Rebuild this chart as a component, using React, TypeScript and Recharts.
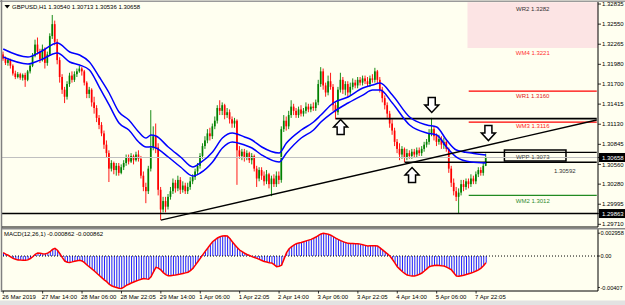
import React from "react";
import {
  ComposedChart,
  Bar,
  Line,
  XAxis,
  YAxis,
  ReferenceLine,
  ReferenceArea,
  ReferenceDot,
} from "recharts";

// GBPUSD H1 candles: [open, high, low, close]
const candles: [number, number, number, number][] = [
  [1.3212, 1.3216, 1.3203, 1.3206], [1.3206, 1.3209, 1.3197, 1.32], [1.32, 1.3207, 1.3196, 1.3204],
  [1.3204, 1.3206, 1.3192, 1.3196], [1.3196, 1.3198, 1.3182, 1.3185], [1.3185, 1.3189, 1.3177, 1.318],
  [1.318, 1.3187, 1.3178, 1.3184], [1.3184, 1.3186, 1.3176, 1.3179], [1.3179, 1.3185, 1.3175, 1.3183],
  [1.3183, 1.3186, 1.3166, 1.3176], [1.3176, 1.319, 1.3174, 1.3188], [1.3188, 1.3198, 1.3185, 1.3196],
  [1.3196, 1.3214, 1.3194, 1.321], [1.321, 1.3233, 1.3208, 1.3226], [1.3226, 1.3236, 1.3212, 1.3216],
  [1.3216, 1.322, 1.32, 1.3205], [1.3205, 1.3226, 1.3202, 1.322], [1.322, 1.3222, 1.3192, 1.32],
  [1.32, 1.3216, 1.3196, 1.3212], [1.3212, 1.3242, 1.321, 1.3238], [1.3238, 1.3268, 1.3234, 1.3255],
  [1.3255, 1.326, 1.3225, 1.323], [1.323, 1.3234, 1.3198, 1.3204], [1.3204, 1.3208, 1.3172, 1.318],
  [1.318, 1.3184, 1.3156, 1.3162], [1.3162, 1.3166, 1.3143, 1.3152], [1.3152, 1.3174, 1.3148, 1.317],
  [1.317, 1.3186, 1.3166, 1.3182], [1.3182, 1.3188, 1.3172, 1.3176], [1.3176, 1.3188, 1.3173, 1.3184],
  [1.3184, 1.3192, 1.318, 1.3188], [1.3188, 1.3196, 1.3186, 1.3192], [1.3192, 1.3194, 1.3182, 1.3188],
  [1.3188, 1.319, 1.3168, 1.3172], [1.3172, 1.3174, 1.315, 1.3156], [1.3156, 1.3166, 1.315, 1.3162],
  [1.3162, 1.3164, 1.3138, 1.3144], [1.3144, 1.3152, 1.3128, 1.3136], [1.3136, 1.314, 1.3116, 1.3122],
  [1.3122, 1.3126, 1.3106, 1.3112], [1.3112, 1.3116, 1.3096, 1.31], [1.31, 1.3104, 1.3078, 1.3084],
  [1.3084, 1.309, 1.3066, 1.3072], [1.3072, 1.3076, 1.3031, 1.305], [1.305, 1.3062, 1.3046, 1.3058],
  [1.3058, 1.306, 1.3042, 1.3048], [1.3048, 1.3058, 1.304, 1.3054], [1.3054, 1.3058, 1.304, 1.3044],
  [1.3044, 1.3056, 1.3042, 1.3052], [1.3052, 1.3062, 1.3048, 1.3058], [1.3058, 1.307, 1.3054, 1.3066],
  [1.3066, 1.307, 1.3056, 1.306], [1.306, 1.3072, 1.3058, 1.3068], [1.3068, 1.307, 1.3056, 1.3062],
  [1.3062, 1.3074, 1.306, 1.307], [1.307, 1.3076, 1.306, 1.3064], [1.3064, 1.3068, 1.3036, 1.304],
  [1.304, 1.3046, 1.3018, 1.3024], [1.3024, 1.303, 1.3001, 1.3018], [1.3018, 1.3054, 1.3014, 1.305],
  [1.305, 1.3133, 1.3046, 1.308], [1.308, 1.311, 1.3076, 1.3096], [1.3096, 1.3114, 1.3072, 1.308],
  [1.308, 1.3086, 1.3012, 1.302], [1.302, 1.3024, 1.2977, 1.2992], [1.2992, 1.301, 1.2988, 1.3004],
  [1.3004, 1.301, 1.2988, 1.2996], [1.2996, 1.3014, 1.2992, 1.301], [1.301, 1.3024, 1.3006, 1.3018],
  [1.3018, 1.3036, 1.3014, 1.303], [1.303, 1.3034, 1.3016, 1.3022], [1.3022, 1.304, 1.3018, 1.3034],
  [1.3034, 1.3038, 1.3014, 1.302], [1.302, 1.3032, 1.3016, 1.3026], [1.3026, 1.303, 1.3014, 1.3018],
  [1.3018, 1.303, 1.3014, 1.3024], [1.3024, 1.3038, 1.302, 1.3032], [1.3032, 1.3042, 1.3028, 1.3038],
  [1.3038, 1.305, 1.3034, 1.3046], [1.3046, 1.3058, 1.3042, 1.3054], [1.3054, 1.3072, 1.305, 1.3068],
  [1.3068, 1.3086, 1.3064, 1.3082], [1.3082, 1.3096, 1.3078, 1.309], [1.309, 1.3106, 1.3086, 1.31],
  [1.31, 1.3108, 1.309, 1.3096], [1.3096, 1.3114, 1.3092, 1.311], [1.311, 1.3124, 1.3106, 1.3118],
  [1.3118, 1.314, 1.3114, 1.3136], [1.3136, 1.3147, 1.3126, 1.3132], [1.3132, 1.3144, 1.3126, 1.314],
  [1.314, 1.3142, 1.312, 1.3126], [1.3126, 1.3136, 1.3122, 1.313], [1.313, 1.3134, 1.3114, 1.312],
  [1.312, 1.3124, 1.3108, 1.3114], [1.3114, 1.3122, 1.3108, 1.3118], [1.3118, 1.312, 1.3027, 1.3076],
  [1.3076, 1.3082, 1.3064, 1.3068], [1.3068, 1.3078, 1.3062, 1.3074], [1.3074, 1.3078, 1.306, 1.3066],
  [1.3066, 1.3076, 1.3062, 1.3072], [1.3072, 1.3074, 1.3058, 1.3062], [1.3062, 1.3072, 1.3056, 1.3068],
  [1.3068, 1.307, 1.3046, 1.305], [1.305, 1.3054, 1.3024, 1.3036], [1.3036, 1.3052, 1.3032, 1.3048],
  [1.3048, 1.3052, 1.3034, 1.304], [1.304, 1.3046, 1.3026, 1.3032], [1.3032, 1.3048, 1.3028, 1.3042],
  [1.3042, 1.3044, 1.3022, 1.3028], [1.3028, 1.304, 1.3011, 1.3036], [1.3036, 1.3042, 1.3024, 1.3028],
  [1.3028, 1.3046, 1.3024, 1.304], [1.304, 1.3046, 1.3028, 1.3034], [1.3034, 1.311, 1.303, 1.3106],
  [1.3106, 1.3126, 1.3102, 1.3118], [1.3118, 1.3124, 1.3104, 1.311], [1.311, 1.3132, 1.3106, 1.3126],
  [1.3126, 1.3147, 1.3122, 1.3138], [1.3138, 1.3142, 1.3126, 1.3132], [1.3132, 1.3136, 1.3122, 1.3126],
  [1.3126, 1.3138, 1.3122, 1.3134], [1.3134, 1.314, 1.3124, 1.3128], [1.3128, 1.3136, 1.3124, 1.3132],
  [1.3132, 1.3144, 1.3128, 1.3138], [1.3138, 1.3142, 1.313, 1.3134], [1.3134, 1.3142, 1.313, 1.3138],
  [1.3138, 1.3144, 1.3132, 1.3136], [1.3136, 1.3148, 1.3132, 1.3144], [1.3144, 1.3176, 1.314, 1.317],
  [1.317, 1.3194, 1.3166, 1.3188], [1.3188, 1.3192, 1.3162, 1.3168], [1.3168, 1.3172, 1.3152, 1.3158],
  [1.3158, 1.3182, 1.3154, 1.3174], [1.3174, 1.3186, 1.3162, 1.3166], [1.3166, 1.317, 1.3132, 1.314],
  [1.314, 1.3144, 1.312, 1.313], [1.313, 1.3166, 1.3126, 1.3162], [1.3162, 1.3186, 1.3158, 1.3176],
  [1.3176, 1.318, 1.3156, 1.3162], [1.3162, 1.3174, 1.3154, 1.317], [1.317, 1.3174, 1.3152, 1.3158],
  [1.3158, 1.3172, 1.3154, 1.3166], [1.3166, 1.3178, 1.3162, 1.3172], [1.3172, 1.3176, 1.3164, 1.3168],
  [1.3168, 1.318, 1.3164, 1.3176], [1.3176, 1.318, 1.3168, 1.3172], [1.3172, 1.3182, 1.3168, 1.3178],
  [1.3178, 1.3182, 1.317, 1.3174], [1.3174, 1.318, 1.3166, 1.317], [1.317, 1.3182, 1.3166, 1.3178],
  [1.3178, 1.3184, 1.3172, 1.3176], [1.3176, 1.3193, 1.3172, 1.3188], [1.3188, 1.319, 1.317, 1.3176],
  [1.3176, 1.318, 1.3158, 1.3162], [1.3162, 1.3166, 1.3144, 1.315], [1.315, 1.3154, 1.3134, 1.314],
  [1.314, 1.3144, 1.3122, 1.3128], [1.3128, 1.3132, 1.3108, 1.3114], [1.3114, 1.312, 1.3098, 1.3104],
  [1.3104, 1.3108, 1.3082, 1.3088], [1.3088, 1.3092, 1.3072, 1.3078], [1.3078, 1.3086, 1.3062, 1.307],
  [1.307, 1.3082, 1.3064, 1.3078], [1.3078, 1.308, 1.3059, 1.3066], [1.3066, 1.3078, 1.3062, 1.3072],
  [1.3072, 1.3076, 1.3064, 1.3068], [1.3068, 1.3078, 1.3064, 1.3074], [1.3074, 1.3078, 1.3066, 1.307],
  [1.307, 1.308, 1.3066, 1.3076], [1.3076, 1.308, 1.3068, 1.3072], [1.3072, 1.3082, 1.3068, 1.3078],
  [1.3078, 1.3088, 1.3074, 1.3084], [1.3084, 1.3092, 1.308, 1.3088], [1.3088, 1.3106, 1.3084, 1.31],
  [1.31, 1.3122, 1.3096, 1.3106], [1.3106, 1.311, 1.309, 1.3096], [1.3096, 1.31, 1.3082, 1.3088],
  [1.3088, 1.3098, 1.3084, 1.3092], [1.3092, 1.3096, 1.3078, 1.3084], [1.3084, 1.3094, 1.3078, 1.3088],
  [1.3088, 1.3092, 1.3074, 1.3078], [1.3078, 1.308, 1.3044, 1.305], [1.305, 1.3054, 1.3024, 1.303],
  [1.303, 1.3036, 1.3012, 1.3018], [1.3018, 1.3024, 1.3004, 1.301], [1.301, 1.3022, 1.2987, 1.3016],
  [1.3016, 1.3034, 1.3012, 1.3028], [1.3028, 1.3034, 1.3018, 1.3024], [1.3024, 1.3036, 1.302, 1.3032],
  [1.3032, 1.3036, 1.3022, 1.3028], [1.3028, 1.3042, 1.3024, 1.3036], [1.3036, 1.304, 1.3028, 1.3032],
  [1.3032, 1.3046, 1.3028, 1.3042], [1.3042, 1.3052, 1.3038, 1.3048], [1.3048, 1.3052, 1.304, 1.3044],
  [1.3044, 1.3058, 1.304, 1.3054], [1.3054, 1.30713, 1.30536, 1.30658],
];

// envelope around the moving average, read at these bars
const maIndex = [0, 10, 15, 22, 27, 31, 35, 39, 43, 47, 51, 55, 58, 60, 62, 67, 72, 77, 80, 85, 89, 93, 98, 101, 105, 112, 115, 121, 126, 129, 134, 140, 146, 150, 153, 158, 165, 172, 176, 180, 184, 190, 196];
const maUpper = [1.32197, 1.32083, 1.32154, 1.32282, 1.32154, 1.32112, 1.32013, 1.318, 1.31573, 1.31303, 1.3119, 1.3102, 1.30934, 1.30977, 1.30963, 1.30807, 1.30665, 1.30523, 1.3058, 1.30736, 1.30934, 1.31005, 1.30949, 1.30906, 1.30807, 1.30722, 1.30864, 1.31048, 1.31161, 1.3126, 1.31431, 1.31516, 1.31644, 1.31686, 1.31715, 1.31544, 1.31232, 1.31119, 1.3109, 1.30906, 1.30764, 1.30722, 1.30693];
const maLower = [1.32083, 1.31984, 1.3204, 1.3214, 1.32013, 1.3197, 1.319, 1.31658, 1.31403, 1.31147, 1.31048, 1.30878, 1.30807, 1.3081, 1.30793, 1.30665, 1.30523, 1.30395, 1.30438, 1.30594, 1.30793, 1.30878, 1.30835, 1.30793, 1.30693, 1.30594, 1.30722, 1.30934, 1.31048, 1.31161, 1.31303, 1.31431, 1.31544, 1.31615, 1.31615, 1.31431, 1.31119, 1.31005, 1.30977, 1.30807, 1.30665, 1.30594, 1.3058];

// MACD(12,26,1) per bar
const macd = [
  0.00043, 0.00025, 0.0001, -0.0001, -0.0003, -0.00042, -0.0005, -0.00053, -0.00054, -0.00056,
  -0.0005, -0.00032, -0.0001, 0.00022, 0.0004, 0.00036, 0.0003, 0.00026, 0.00038, 0.00056,
  0.00085, 0.001, 0.00075, 0.0003, -0.0002, -0.00065, -0.0008, -0.00083, -0.00076, -0.00068,
  -0.0006, -0.00056, -0.00064, -0.00086, -0.00117, -0.00142, -0.00166, -0.00194, -0.00224, -0.00252,
  -0.0028, -0.00308, -0.00332, -0.00365, -0.00386, -0.00397, -0.00408, -0.00416, -0.00419, -0.00402,
  -0.0038, -0.00366, -0.0035, -0.00336, -0.00324, -0.00312, -0.003, -0.0029, -0.00296, -0.003,
  -0.0027, -0.00205, -0.00147, -0.00156, -0.0018, -0.00215, -0.0024, -0.00255, -0.00255, -0.0025,
  -0.00246, -0.0024, -0.00234, -0.00226, -0.00218, -0.0021, -0.00188, -0.0016, -0.00118, -0.00074,
  -0.0003, 0.00015, 0.0006, 0.001, 0.00145, 0.00185, 0.0021, 0.00234, 0.0025, 0.00258,
  0.00262, 0.0026, 0.00228, 0.00185, 0.00146, 0.0011, 0.00078, 0.00056, 0.00036, 0.0002,
  0.00006, -0.00008, -0.0002, -0.0003, -0.00044, -0.00058, -0.0007, -0.00078, -0.00086, -0.0009,
  -0.00112, -0.00138, -0.00132, -0.0012, -0.0004, 0.0004, 0.0009, 0.0012, 0.00142, 0.0016,
  0.00168, 0.00176, 0.00186, 0.00196, 0.00206, 0.00216, 0.0023, 0.00246, 0.00268, 0.00285,
  0.00294, 0.0029, 0.00282, 0.0027, 0.0025, 0.00232, 0.00215, 0.002, 0.00186, 0.00174,
  0.00164, 0.00162, 0.00161, 0.0016, 0.0016, 0.00154, 0.00146, 0.00138, 0.0013, 0.00132,
  0.00134, 0.00132, 0.0013, 0.00106, 0.0008, 0.00054, 0.00028, 0, -0.00042, -0.00088,
  -0.00138, -0.0017, -0.002, -0.00226, -0.00246, -0.00254, -0.00259, -0.0026, -0.0025, -0.00236,
  -0.0022, -0.00194, -0.00166, -0.00138, -0.00128, -0.00122, -0.0012, -0.00123, -0.00127, -0.0013,
  -0.00144, -0.0016, -0.0018, -0.0022, -0.0026, -0.00262, -0.00256, -0.0025, -0.0024, -0.0023,
  -0.0022, -0.00208, -0.00194, -0.0018, -0.00156, -0.00126, -0.000862,
];

const timeTicks = [0, 16, 32, 48, 64, 80, 96, 112, 128, 144, 160, 176, 192];
const timeLabels = [
  "26 Mar 2019", "27 Mar 14:00", "28 Mar 06:00", "28 Mar 22:05", "29 Mar 14:00", "1 Apr 06:00",
  "1 Apr 22:05", "2 Apr 14:00", "3 Apr 06:00", "3 Apr 22:05", "4 Apr 14:00", "5 Apr 06:00", "7 Apr 22:05",
];

const priceTicks = [1.32835, 1.3255, 1.32265, 1.3198, 1.317, 1.31415, 1.3113, 1.30845, 1.3056, 1.3028, 1.29995, 1.2971];
const markedPrices = [1.30658, 1.29863]; // bid and support, boxed on the scale
const macdTicks = [0.002958, 0, -0.00407];
const macdTickLabels = ["0.002958", "0.00", "-0.00407"];

// weekly pivots
const WR2 = 1.3282;
const WM4 = 1.3221;
const WR1 = 1.316;
const WM3 = 1.3116;
const WPP = 1.3073;
const WM2 = 1.3012;

const resistance = 1.3121;
const support2 = 1.30592;
const trendFrom = { i: 64, price: 1.2977 };
const trendTo = { i: 241, price: 1.3119 };

const SLOTS = 242; // bars incl. empty space on the right
const FONT = "'Liberation Sans', Arial, sans-serif";
const BG = "#fffff0";

const rows = Array.from({ length: SLOTS }, (_, i) => {
  const k = candles[i];
  const m = maIndex.indexOf(i);
  return {
    i,
    ohlc: k || null,
    range: k ? [k[2], k[1]] : undefined,
    maUp: m >= 0 ? maUpper[m] : undefined,
    maLo: m >= 0 ? maLower[m] : undefined,
    macd: i < macd.length ? macd[i] : undefined,
  };
});

function Candle(props: any) {
  const { x, y, width, height, payload } = props;
  const k = payload && payload.ohlc;
  if (!k || !isFinite(y) || !isFinite(height)) return <g />;
  const [o, h, l, c] = k;
  const top = Math.min(y, y + height);
  const span = Math.abs(height);
  const at = (v: number) => top + ((h - v) / (h - l || 1)) * span;
  const cx = x + width / 2;
  const color = c >= o ? "#008000" : "#ff0000";
  const bTop = Math.min(at(o), at(c));
  const bH = Math.max(Math.abs(at(o) - at(c)), 1);
  return (
    <g>
      <line x1={cx} x2={cx} y1={top} y2={top + span} stroke={color} strokeWidth={0.9} />
      <rect x={cx - 0.85} y={bTop} width={1.7} height={bH} fill={color} />
    </g>
  );
}

function PriceTick(props: any) {
  const { y, payload } = props;
  const v: number = payload.value;
  const marked = markedPrices.includes(v);
  return (
    <g>
      <line x1={598} x2={601} y1={y} y2={y} stroke="#000" strokeWidth={0.8} />
      {marked && <rect x={599} y={y - 4.5} width={26} height={9} fill="#000" />}
      <text x={602} y={y + 2.1} fontSize={6} fontFamily={FONT} fill={marked ? "#fff" : "#000"}>
        {v.toFixed(5)}
      </text>
    </g>
  );
}

function MacdTick(props: any) {
  const { y, payload } = props;
  const label = macdTickLabels[macdTicks.indexOf(payload.value)];
  return (
    <g>
      <line x1={598} x2={600} y1={y} y2={y} stroke="#000" strokeWidth={0.8} />
      <text x={600.5} y={y + 2.1} fontSize={5.6} fontFamily={FONT} fill="#000">
        {label}
      </text>
    </g>
  );
}

function TimeTick(props: any) {
  const { x, payload } = props;
  const label = timeLabels[timeTicks.indexOf(payload.value)];
  return (
    <g>
      <line x1={x} x2={x} y1={63} y2={65.5} stroke="#000" strokeWidth={0.8} />
      <text x={x - 1} y={71.4} fontSize={6} fontFamily={FONT} fill="#000">
        {label}
      </text>
    </g>
  );
}

const textAt = (text: string, color: string) => (p: any) => (
  <text x={p.cx} y={p.cy} textAnchor="middle" dominantBaseline="central" fontSize={6} fontFamily={FONT} fill={color}>
    {text}
  </text>
);

const arrow = (dir: "up" | "down") => (p: any) => {
  const { cx, cy } = p;
  const s = dir === "down" ? 1 : -1;
  const pts = [
    [cx - 3.5, cy - 7.5 * s],
    [cx + 3.5, cy - 7.5 * s],
    [cx + 3.5, cy],
    [cx + 7, cy],
    [cx, cy + 7.5 * s],
    [cx - 7, cy],
    [cx - 3.5, cy],
  ]
    .map((q) => q.join(","))
    .join(" ");
  return <polygon points={pts} fill="#ffffff" stroke="#000" strokeWidth={1.5} strokeLinejoin="miter" />;
};

export default function App() {
  return (
    <div style={{ position: "absolute", left: 0, top: 0, width: 625, height: 305, background: BG, overflow: "hidden" }}>
      <div style={{ position: "absolute", left: 0, top: 0 }}>
        <ComposedChart
          width={625}
          height={228}
          data={rows}
          margin={{ top: 2, right: 0, bottom: 1, left: 2 }}
          barCategoryGap={0}
          barGap={0}
        >
          <XAxis dataKey="i" type="category" hide />
          <YAxis
            orientation="right"
            width={27}
            domain={[1.29672, 1.32864]}
            allowDataOverflow
            ticks={[...priceTicks, ...markedPrices]}
            interval={0}
            tickLine={false}
            axisLine={{ stroke: "#000" }}
            tick={PriceTick}
          />
          <ReferenceArea x1={189} x2={241} y1={WM4} y2={1.3286} fill="#fce4e4" fillOpacity={1} stroke="none" />
          <ReferenceLine y={1.30658} stroke="#c0c0c0" strokeWidth={1} />
          <ReferenceLine y={1.29863} stroke="#000" strokeWidth={1.6} />
          <ReferenceLine segment={[{ x: 135, y: resistance }, { x: 241, y: resistance }]} stroke="#000" strokeWidth={1.8} />
          <ReferenceLine segment={[{ x: 163, y: support2 }, { x: 241, y: support2 }]} stroke="#000" strokeWidth={1.5} />
          <ReferenceLine segment={[{ x: 187, y: WPP }, { x: 241, y: WPP }]} stroke="#000" strokeWidth={1.2} />
          <ReferenceLine segment={[{ x: 189, y: WR1 }, { x: 241, y: WR1 }]} stroke="#ff0000" strokeWidth={1.3} />
          <ReferenceLine segment={[{ x: 189, y: WM3 }, { x: 241, y: WM3 }]} stroke="#ff0000" strokeWidth={1.3} />
          <ReferenceLine segment={[{ x: 189, y: WM2 }, { x: 241, y: WM2 }]} stroke="#228b22" strokeWidth={1.2} />
          <ReferenceArea x1={204} x2={228} y1={1.30608} y2={1.30764} fill="none" stroke="#000" strokeWidth={1.5} />
          <Bar dataKey="range" shape={Candle} isAnimationActive={false} />
          <Line dataKey="maUp" type="monotone" stroke="#0000ff" strokeWidth={1.5} dot={false} connectNulls isAnimationActive={false} />
          <Line dataKey="maLo" type="monotone" stroke="#0000ff" strokeWidth={1.5} dot={false} connectNulls isAnimationActive={false} />
          <ReferenceLine
            segment={[{ x: trendFrom.i, y: trendFrom.price }, { x: trendTo.i, y: trendTo.price }]}
            stroke="#000"
            strokeWidth={1.4}
          />
          <ReferenceDot x={215} y={1.32764} r={1} shape={textAt(`WR2 ${WR2.toFixed(4)}`, "#333")} />
          <ReferenceDot x={215} y={1.3214} r={1} shape={textAt(`WM4 ${WM4.toFixed(4)}`, "#ff3030")} />
          <ReferenceDot x={215} y={1.3153} r={1} shape={textAt(`WR1 ${WR1.toFixed(4)}`, "#e02020")} />
          <ReferenceDot x={215} y={1.31105} r={1} shape={textAt(`WM3 ${WM3.toFixed(4)}`, "#ff2020")} />
          <ReferenceDot x={215} y={1.30665} r={1} shape={textAt(`WPP ${WPP.toFixed(4)}`, "#444")} />
          <ReferenceDot x={228} y={1.30466} r={1} shape={textAt(`${support2.toFixed(5)}`, "#333")} />
          <ReferenceDot x={215} y={1.30041} r={1} shape={textAt(`WM2 ${WM2.toFixed(4)}`, "#2e8b2e")} />
          <ReferenceDot x={174} y={1.31403} r={1} shape={arrow("down")} />
          <ReferenceDot x={137} y={1.31091} r={1} shape={arrow("up")} />
          <ReferenceDot x={166} y={1.3041} r={1} shape={arrow("up")} />
          <ReferenceDot x={197} y={1.31005} r={1} shape={arrow("down")} />
        </ComposedChart>
      </div>
      <div style={{ position: "absolute", left: 0, top: 228 }}>
        <ComposedChart
          width={625}
          height={77}
          data={rows}
          margin={{ top: 1, right: 0, bottom: 0, left: 2 }}
          barCategoryGap={0}
          barGap={0}
        >
          <XAxis
            dataKey="i"
            type="category"
            height={14}
            ticks={timeTicks}
            interval={0}
            tickLine={false}
            axisLine={{ stroke: "#000" }}
            tick={TimeTick}
          />
          <YAxis
            orientation="right"
            width={27}
            domain={[-0.00453, 0.0035]}
            allowDataOverflow
            ticks={macdTicks}
            interval={0}
            tickLine={false}
            axisLine={{ stroke: "#000" }}
            tick={MacdTick}
          />
          <ReferenceLine y={0} stroke="#000" strokeDasharray="1 2" strokeWidth={1} />
          <Bar dataKey="macd" fill="#1f1fff" barSize={1} isAnimationActive={false} />
          <Line dataKey="macd" type="linear" stroke="#ff0000" strokeWidth={1.5} dot={false} isAnimationActive={false} />
        </ComposedChart>
      </div>
      <svg width={625} height={305} style={{ position: "absolute", left: 0, top: 0, pointerEvents: "none" }}>
        <line x1={0} x2={625} y1={1.2} y2={1.2} stroke="#9a9a9a" strokeWidth={1.5} />
        <line x1={1.5} x2={1.5} y1={0} y2={292} stroke="#808080" strokeWidth={1.5} />
        <line x1={2} x2={598} y1={227} y2={227} stroke="#000" strokeWidth={1} />
        <line x1={2} x2={625} y1={228.8} y2={228.8} stroke="#8a8a8a" strokeWidth={1.4} />
        <rect x={0} y={300.5} width={625} height={5} fill="#e2e2e2" />
        <polygon points="4.5,5 10,5 7.2,8.6" fill="#000" />
        <text x={12} y={9} fontSize={6} fontFamily={FONT} fill="#000">
          GBPUSD,H1  1.30540 1.30713 1.30536 1.30658
        </text>
        <text x={4} y={236} fontSize={6} fontFamily={FONT} fill="#000">
          MACD(12,26,1) -0.000862 -0.000862
        </text>
      </svg>
    </div>
  );
}
